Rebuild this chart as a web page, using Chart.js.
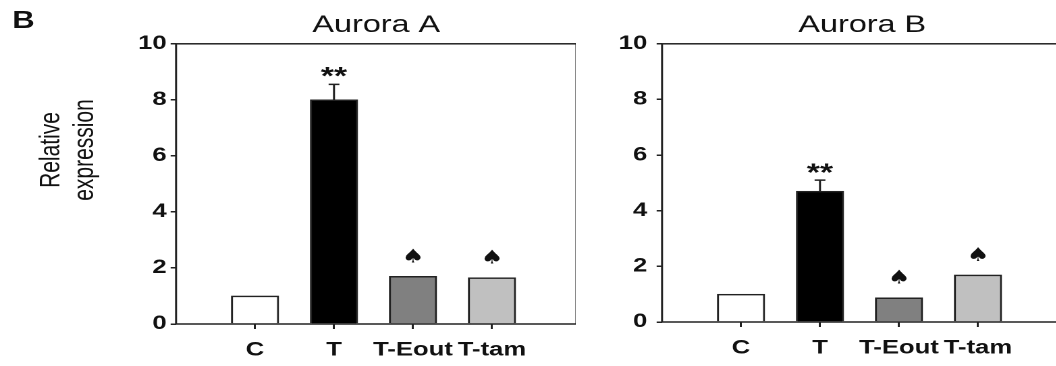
<!DOCTYPE html>
<html>
<head>
<meta charset="utf-8">
<script src="https://cdn.jsdelivr.net/npm/chart.js@4"></script>
<style>
  html, body { margin: 0; padding: 0; background: #fff; overflow: hidden; }
  #stage {
    position: absolute; left: 0; top: 0;
    width: 782px; height: 366px;
    transform: scaleX(1.35); transform-origin: 0 0;
  }
  .panel { position: absolute; top: 0; height: 366px; }
  #panelA { left: 0; width: 427px; }
  #panelB { left: 440px; width: 347px; }
  #tag {
    position: absolute; left: 9px; top: 7px;
    font: bold 23px "Liberation Sans", Arial, sans-serif; color: #111;
  }
</style>
</head>
<body>
<div id="stage">
  <div id="tag">B</div>
  <div class="panel" id="panelA"><canvas id="chartA" width="427" height="366"></canvas></div>
  <div class="panel" id="panelB"><canvas id="chartB" width="347" height="366"></canvas></div>
</div>
<script>
const categories = ['C', 'T', 'T-Eout', 'T-tam'];
const positions = [1, 2, 3, 4];
const barColors = ['#ffffff', '#000000', '#808080', '#c0c0c0'];

const auroraA = [1.0, 8.0, 1.7, 1.65];
const auroraAErr = [0, 0.55, 0, 0];
const auroraAMarks = ['', '**', '\u2660', '\u2660'];

const auroraB = [1.0, 4.7, 0.87, 1.69];
const auroraBErr = [0, 0.4, 0, 0];
const auroraBMarks = ['', '**', '\u2660', '\u2660'];

const yTicks = [0, 2, 4, 6, 8, 10];
const yLabel = ['Relative', 'expression'];

Chart.defaults.font.family = '"Liberation Sans", Arial, sans-serif';
Chart.defaults.color = '#111';

// frame round the plot area, error bars, significance marks, y label
const extras = {
  id: 'extras',
  afterDatasetsDraw(chart, args, opts) {
    const ctx = chart.ctx;
    const { left, top, right, bottom } = chart.chartArea;
    const x = chart.scales.x;
    const y = chart.scales.y;
    ctx.save();
    ctx.strokeStyle = '#222';
    ctx.lineWidth = 1.5;
    ctx.strokeRect(left, top, right - left, bottom - top);

    opts.values.forEach((v, i) => {
      const px = x.getPixelForValue(positions[i]);
      const yTop = y.getPixelForValue(v);
      const yErr = y.getPixelForValue(v + opts.errors[i]);
      if (opts.errors[i] > 0) {
        ctx.beginPath();
        ctx.moveTo(px, yTop);
        ctx.lineTo(px, yErr);
        ctx.moveTo(px - 4, yErr);
        ctx.lineTo(px + 4, yErr);
        ctx.stroke();
      }
      const mark = opts.marks[i];
      if (!mark) return;
      ctx.fillStyle = '#111';
      ctx.textAlign = 'center';
      if (mark === '**') {
        ctx.font = 'bold 25px "Liberation Sans", Arial, sans-serif';
        ctx.textBaseline = 'alphabetic';
        ctx.fillText(mark, px, yErr + opts.starDrop);
      } else {
        ctx.font = '19px "DejaVu Sans", sans-serif';
        ctx.textBaseline = 'middle';
        ctx.fillText(mark, px, yTop - 19);
      }
    });

    if (opts.label) {
      ctx.fillStyle = '#111';
      ctx.font = '21px "Liberation Sans", Arial, sans-serif';
      ctx.textAlign = 'center';
      ctx.textBaseline = 'middle';
      opts.label.forEach((line, k) => {
        ctx.save();
        ctx.translate(38 + k * 25, 150);
        ctx.rotate(-Math.PI / 2);
        ctx.fillText(line, 0, 0);
        ctx.restore();
      });
    }
    ctx.restore();
  }
};

function makeChart(id, title, values, errors, marks, axisWidth, xHeight, label, starDrop) {
  return new Chart(document.getElementById(id), {
    type: 'bar',
    data: {
      datasets: [{
        data: values.map((v, i) => ({ x: positions[i], y: v })),
        backgroundColor: barColors,
        borderColor: '#222',
        borderWidth: 1.5,
        barThickness: 35,
      }],
    },
    options: {
      responsive: false,
      animation: false,
      devicePixelRatio: 2,
      layout: { padding: 0 },
      plugins: {
        legend: { display: false },
        tooltip: { enabled: false },
        title: {
          display: true,
          text: title,
          fullSize: false,
          font: { size: 24, weight: 'normal' },
          padding: { top: 11, bottom: 4 },
        },
        extras: { values, errors, marks, starDrop, label },
      },
      scales: {
        x: {
          type: 'linear',
          offset: false,
          min: 0,
          max: 5.07,
          afterBuildTicks: (scale) => {
            scale.ticks = positions.map((p) => ({ value: p }));
          },
          afterFit: (scale) => { scale.height = xHeight; },
          ticks: {
            autoSkip: false,
            maxRotation: 0,
            padding: 10,
            font: { size: 19, weight: 'bold' },
            callback: (v) => categories[positions.indexOf(v)] || '',
          },
          grid: { offset: false, drawOnChartArea: false, tickLength: 5, color: '#222', lineWidth: 1.5 },
          border: { display: false },
        },
        y: {
          min: 0,
          max: 10,
          afterBuildTicks: (scale) => {
            scale.ticks = yTicks.map((t) => ({ value: t }));
          },
          afterFit: (scale) => { scale.width = axisWidth; },
          ticks: {
            padding: label ? 3 : 7,
            font: { size: 19, weight: 'bold' },
          },
          grid: { drawOnChartArea: false, tickLength: 4, color: '#222', lineWidth: 1.5 },
          border: { display: false },
        },
      },
    },
    plugins: [extras],
  });
}

makeChart('chartA', 'Aurora A', auroraA, auroraAErr, auroraAMarks, 130.4, 42, yLabel, 0);
makeChart('chartB', 'Aurora B', auroraB, auroraBErr, auroraBMarks, 50.4, 44, null, 1);
</script>
</body>
</html>
